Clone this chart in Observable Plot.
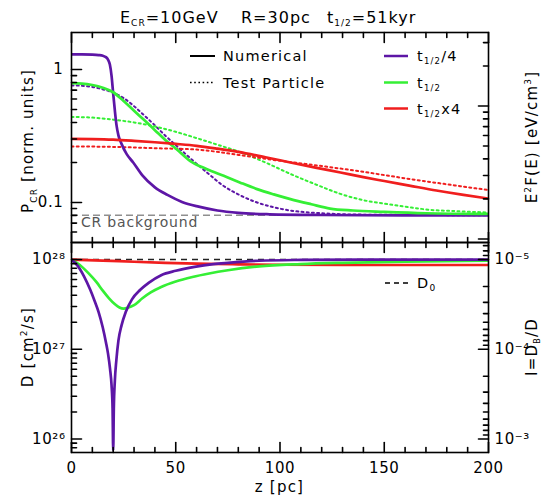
<!DOCTYPE html>
<html><head><meta charset="utf-8">
<script src="https://cdn.jsdelivr.net/npm/d3@7"></script>
<script src="https://cdn.jsdelivr.net/npm/@observablehq/plot@0.6"></script>
<style>
body{margin:0;background:#fff;}
#wrap{position:relative;width:543px;height:496px;font-family:"DejaVu Sans",sans-serif;}
#topPanel,#botPanel,#overlay{position:absolute;left:0;}
#topPanel{top:0}
#botPanel{top:242px}
#overlay{top:0;pointer-events:none;font-family:"DejaVu Sans",sans-serif;}
</style></head><body>
<div id="wrap">
<div id="topPanel"></div>
<div id="botPanel"></div>
<svg id="overlay" width="543" height="496" xmlns="http://www.w3.org/2000/svg">
  <g font-size="16" letter-spacing="1" fill="#000">
    <text x="120" y="23">E<tspan font-size="9" dy="3">CR</tspan><tspan dy="-3">=10GeV</tspan></text>
    <text x="241" y="23">R=30pc</text>
    <text x="327" y="23">t<tspan font-size="9" dy="3">1/2</tspan><tspan dy="-3">=51kyr</tspan></text>
  </g>
  <g font-size="14.5" letter-spacing="1.2" fill="#000">
    <line x1="190" x2="215" y1="56" y2="56" stroke="#000" stroke-width="2"/>
    <text x="223" y="61">Numerical</text>
    <line x1="190" x2="215" y1="82.5" y2="82.5" stroke="#000" stroke-width="1.6" stroke-dasharray="1.6,2.6"/>
    <text x="223" y="87.5">Test Particle</text>
    <line x1="384" x2="408" y1="56" y2="56" stroke="#5d16a6" stroke-width="2.5"/>
    <text x="417" y="61">t<tspan font-size="8.5" dy="3">1/2</tspan><tspan dy="-3">/4</tspan></text>
    <line x1="384" x2="408" y1="82.5" y2="82.5" stroke="#35ef35" stroke-width="2.5"/>
    <text x="417" y="87.5">t<tspan font-size="8.5" dy="3">1/2</tspan></text>
    <line x1="384" x2="408" y1="108.5" y2="108.5" stroke="#f01e1e" stroke-width="2.5"/>
    <text x="417" y="113.5">t<tspan font-size="8.5" dy="3">1/2</tspan><tspan dy="-3">x4</tspan></text>
    <text x="81" y="227" fill="#555" font-size="14" letter-spacing="0.8">CR background</text>
    <line x1="385" x2="408" y1="283" y2="283" stroke="#000" stroke-width="1.5" stroke-dasharray="5,4"/>
    <text x="417" y="288">D<tspan font-size="9" dy="3">0</tspan></text>
  </g>
  <g font-size="15" letter-spacing="1.2" fill="#000" text-anchor="middle">
    <text transform="translate(33,141) rotate(-90)">P<tspan font-size="9" dy="4">CR</tspan><tspan dy="-4"> [norm. units]</tspan></text>
    <text transform="translate(537,137) rotate(-90)">E<tspan font-size="9" dy="-6">2</tspan><tspan dy="6">F(E) [eV/cm</tspan><tspan font-size="9" dy="-6">3</tspan><tspan dy="6">]</tspan></text>
    <text transform="translate(33,347) rotate(-90)">D [cm<tspan font-size="9" dy="-6">2</tspan><tspan dy="6">/s]</tspan></text>
    <text transform="translate(537,347) rotate(-90)">I=D<tspan font-size="8" dy="2.5">B</tspan><tspan dy="-2.5">/D</tspan></text>
    <text x="279.5" y="492">z [pc]</text>
  </g>
</svg>
</div>
<script>
// ---------- DATA ----------
// Top panel: P_CR (norm. units), numerical solutions
const zNumQuarter = [0, 5, 10, 13, 15, 16.5, 17.5, 18.4, 19.2, 20, 20.8, 21.6, 22.5, 24, 26.4, 29.6, 34, 40, 46, 53, 61, 70, 80, 95, 120, 160, 200];
const pNumQuarter = [1.30, 1.30, 1.295, 1.285, 1.27, 1.24, 1.19, 1.09, 0.90, 0.66, 0.49, 0.38, 0.32, 0.276, 0.232, 0.200, 0.160, 0.130, 0.114, 0.101, 0.093, 0.087, 0.0835, 0.0815, 0.0805, 0.080, 0.080];

const zNumHalf = [0, 5, 10, 15, 20, 25, 30, 35, 40, 45, 50, 57, 65, 73, 81, 89, 97, 105, 115, 124, 135, 150, 170, 200];
const pNumHalf = [0.79, 0.785, 0.765, 0.73, 0.675, 0.58, 0.49, 0.415, 0.35, 0.295, 0.255, 0.205, 0.178, 0.159, 0.141, 0.126, 0.115, 0.106, 0.097, 0.090, 0.087, 0.085, 0.083, 0.082];

const zNumFour = [0, 10, 20, 30, 40, 50, 60, 70, 80, 93, 105, 117, 129, 140, 150, 162, 175, 188, 200];
const pNumFour = [0.301, 0.300, 0.297, 0.291, 0.284, 0.276, 0.267, 0.254, 0.240, 0.219, 0.200, 0.183, 0.168, 0.155, 0.145, 0.134, 0.123, 0.114, 0.107];

// Top panel: test particle solutions
const zTpQuarter = [0, 5, 10, 15, 20, 25, 30, 35, 40, 45, 50, 57, 65, 73, 81, 89, 97, 105, 120, 140, 170, 200];
const pTpQuarter = [0.76, 0.755, 0.74, 0.71, 0.67, 0.61, 0.53, 0.45, 0.38, 0.318, 0.27, 0.215, 0.168, 0.133, 0.113, 0.100, 0.092, 0.087, 0.083, 0.081, 0.0805, 0.080];

const zTpHalf = [0, 10, 20, 30, 40, 50, 60, 70, 81, 93, 105, 117, 129, 140, 150, 160, 172, 185, 200];
const pTpHalf = [0.44, 0.435, 0.42, 0.40, 0.373, 0.34, 0.305, 0.272, 0.239, 0.200, 0.164, 0.137, 0.116, 0.104, 0.098, 0.093, 0.088, 0.086, 0.084];

const zTpFour = [0, 20, 40, 60, 80, 100, 120, 140, 160, 180, 200];
const pTpFour = [0.264, 0.262, 0.256, 0.250, 0.228, 0.206, 0.188, 0.170, 0.152, 0.137, 0.124];

const CR_BACKGROUND = 0.08;

// Bottom panel: diffusion coefficient D (cm^2/s)
const zDQuarter = [0, 3, 6, 9, 11, 13, 15, 16.5, 17.5, 18.5, 19.2, 19.7, 20, 20.3, 20.8, 21.5, 22.5, 24, 26, 29, 33, 37, 43, 50, 59, 68, 75, 90, 110, 140, 200];
const dQuarter = [1e28, 8.5e27, 6.5e27, 4.6e27, 3.5e27, 2.6e27, 1.75e27, 1.2e27, 9e26, 6e26, 4e26, 2.2e26, 7.5e25, 2.2e26, 4.5e26, 7.5e26, 1.25e27, 1.85e27, 2.6e27, 3.6e27, 4.6e27, 5.5e27, 6.7e27, 7.5e27, 8.3e27, 8.9e27, 9.2e27, 9.7e27, 9.9e27, 1e28, 1e28];

const zDHalf = [0, 4, 8, 12, 15, 18, 21, 23, 25, 27, 30, 34, 38, 43, 50, 58, 66, 75, 90, 110, 130, 160, 200];
const dHalf = [1e28, 8.7e27, 7.1e27, 5.6e27, 4.5e27, 3.7e27, 3.15e27, 2.92e27, 2.84e27, 2.9e27, 3.1e27, 3.7e27, 4.3e27, 4.95e27, 5.7e27, 6.4e27, 7.0e27, 7.6e27, 8.4e27, 8.9e27, 9.2e27, 9.5e27, 9.7e27];

const zDFour = [0, 15, 30, 45, 60, 80, 100, 130, 160, 200];
const dFour = [1e28, 9.75e27, 9.45e27, 9.2e27, 9.0e27, 8.85e27, 8.75e27, 8.7e27, 8.7e27, 8.7e27];

const D_ZERO = 1e28;
const D_B = 1e23;           // I = D_B / D
const E_FACTOR = 1.88;      // E^2F(E) [eV/cm^3] per unit P_CR

// Ticks and labels
const xMajor = [0, 50, 100, 150, 200];
const xMinor = [10, 20, 30, 40, 60, 70, 80, 90, 110, 120, 130, 140, 160, 170, 180, 190];
const pMajor = [0.1, 1];
const pMajorLabels = ["0.1", "1"];
const pMinor = [0.06, 0.07, 0.08, 0.09, 0.2, 0.3, 0.4, 0.5, 0.6, 0.7, 0.8, 0.9];
const eMajor = [0.1, 1];
const eMajorLabels = ["0.1", "1"];
const eMinor = [0.2, 0.3, 0.4, 0.5, 0.6, 0.7, 0.8, 0.9, 2, 3];
const dMajor = [1e26, 1e27, 1e28];
const dMajorLabels = ["10²⁶", "10²⁷", "10²⁸"];
const dMinor = [8e25, 9e25, 2e26, 3e26, 4e26, 5e26, 6e26, 7e26, 8e26, 9e26, 2e27, 3e27, 4e27, 5e27, 6e27, 7e27, 8e27, 9e27];
const iMajor = [1e-3, 1e-4, 1e-5];
const iMajorLabels = ["10⁻³", "10⁻⁴", "10⁻⁵"];
const iMinor = [7e-6, 8e-6, 9e-6, 2e-5, 3e-5, 4e-5, 5e-5, 6e-5, 7e-5, 8e-5, 9e-5, 2e-4, 3e-4, 4e-4, 5e-4, 6e-4, 7e-4, 8e-4, 9e-4];

// ---------- STYLE ----------
const PURPLE = "#5d16a6", GREEN = "#35ef35", RED = "#f01e1e";
const W = 543, ML = 71, MR = 55, FH = 210;
const X_DOMAIN = [0, 200];
const P_DOMAIN = [0.05, 1.9];
const D_DOMAIN = [Math.pow(10, 25.85), Math.pow(10, 28.19)];
const FONT = {fontFamily: "DejaVu Sans", fontSize: "15px", letterSpacing: "0.6px", background: "transparent", overflow: "visible"};

const rows = (zs, vs) => zs.map((z, i) => ({z, v: vs[i]}));
const solid = (zs, vs, c) => Plot.line(rows(zs, vs), {x: "z", y: "v", stroke: c, strokeWidth: 2.7, curve: "monotone-x", clip: true});
const dotted = (zs, vs, c) => Plot.line(rows(zs, vs), {x: "z", y: "v", stroke: c, strokeWidth: 2, strokeDasharray: "2,3.2", curve: "monotone-x", clip: true});

// Inward-pointing frame ticks (IDL style): two-point line segments whose inner
// ends are found by inverting the panel's own scales at a fixed pixel length.
function frameTicks(yDomain, marginTop, xMaj, xMin, lMaj, lMin, rMaj, rMin) {
  const xs = Plot.scale({x: {domain: X_DOMAIN, range: [ML, W - MR]}});
  const ys = Plot.scale({y: {type: "log", domain: yDomain, range: [marginTop + FH, marginTop]}});
  const pts = [];
  let id = 0;
  const seg = (x1, y1, x2, y2) => { pts.push({x: x1, y: y1, id}, {x: x2, y: y2, id}); id++; };
  for (const [vals, len] of [[xMaj, 10], [xMin, 5]]) for (const v of vals) {
    seg(v, yDomain[0], v, ys.invert(marginTop + FH - len));
    seg(v, yDomain[1], v, ys.invert(marginTop + len));
  }
  for (const [vals, len] of [[lMaj, 10], [lMin, 5]]) for (const v of vals) seg(X_DOMAIN[0], v, xs.invert(ML + len), v);
  for (const [vals, len] of [[rMaj, 10], [rMin, 5]]) for (const v of vals) seg(X_DOMAIN[1], v, xs.invert(W - MR - len), v);
  return Plot.line(pts, {x: "x", y: "y", z: "id", stroke: "#000", strokeWidth: 1.6});
}

// ---------- TOP PANEL ----------
const eMajorP = eMajor.map(r => r / E_FACTOR);
const eMinorP = eMinor.map(r => r / E_FACTOR);
const pLab = new Map(pMajor.map((v, i) => [v, pMajorLabels[i]]));
const eLab = new Map(eMajorP.map((v, i) => [v, eMajorLabels[i]]));

const topPlot = Plot.plot({
  width: W, height: 243, marginTop: 32, marginBottom: 1, marginLeft: ML, marginRight: MR,
  style: FONT,
  x: {domain: X_DOMAIN, axis: null},
  y: {type: "log", domain: P_DOMAIN},
  marks: [
    Plot.ruleY([CR_BACKGROUND], {stroke: "#8f8f8f", strokeWidth: 1.5, strokeDasharray: "7,4"}),
    dotted(zTpQuarter, pTpQuarter, PURPLE),
    dotted(zTpHalf, pTpHalf, GREEN),
    dotted(zTpFour, pTpFour, RED),
    solid(zNumQuarter, pNumQuarter, PURPLE),
    solid(zNumHalf, pNumHalf, GREEN),
    solid(zNumFour, pNumFour, RED),
    Plot.frame({stroke: "#000", strokeWidth: 1.6}),
    frameTicks(P_DOMAIN, 32, xMajor, xMinor, pMajor, pMinor, eMajorP, eMinorP),
    Plot.axisY(pMajor, {anchor: "left", tickSize: 0, tickPadding: 8, label: null, tickFormat: d => pLab.get(d)}),
    Plot.axisY(eMajorP, {anchor: "right", tickSize: 0, tickPadding: 6, label: null, tickFormat: d => eLab.get(d)})
  ]
});
document.getElementById("topPanel").append(topPlot);

// ---------- BOTTOM PANEL ----------
const iMajorD = iMajor.map(v => D_B / v);
const iMinorD = iMinor.map(v => D_B / v);
const dLab = new Map(dMajor.map((v, i) => [v, dMajorLabels[i]]));
const iLab = new Map(iMajorD.map((v, i) => [v, iMajorLabels[i]]));

const botPlot = Plot.plot({
  width: W, height: 254, marginTop: 0, marginBottom: 44, marginLeft: ML, marginRight: MR,
  style: FONT,
  x: {domain: X_DOMAIN},
  y: {type: "log", domain: D_DOMAIN},
  marks: [
    Plot.ruleY([D_ZERO], {stroke: "#222", strokeWidth: 1.5, strokeDasharray: "6,5"}),
    solid(zDFour, dFour, RED),
    solid(zDHalf, dHalf, GREEN),
    solid(zDQuarter, dQuarter, PURPLE),
    Plot.frame({stroke: "#000", strokeWidth: 1.6}),
    frameTicks(D_DOMAIN, 0, xMajor, xMinor, dMajor, dMinor, iMajorD, iMinorD),
    Plot.axisX(xMajor, {anchor: "bottom", tickSize: 0, tickPadding: 10, label: null, tickFormat: d => String(d)}),
    Plot.axisY(dMajor, {anchor: "left", tickSize: 0, tickPadding: 6, label: null, tickFormat: d => dLab.get(d)}),
    Plot.axisY(iMajorD, {anchor: "right", tickSize: 0, tickPadding: 6, label: null, tickFormat: d => iLab.get(d)})
  ]
});
document.getElementById("botPanel").append(botPlot);
</script>
</body></html>
